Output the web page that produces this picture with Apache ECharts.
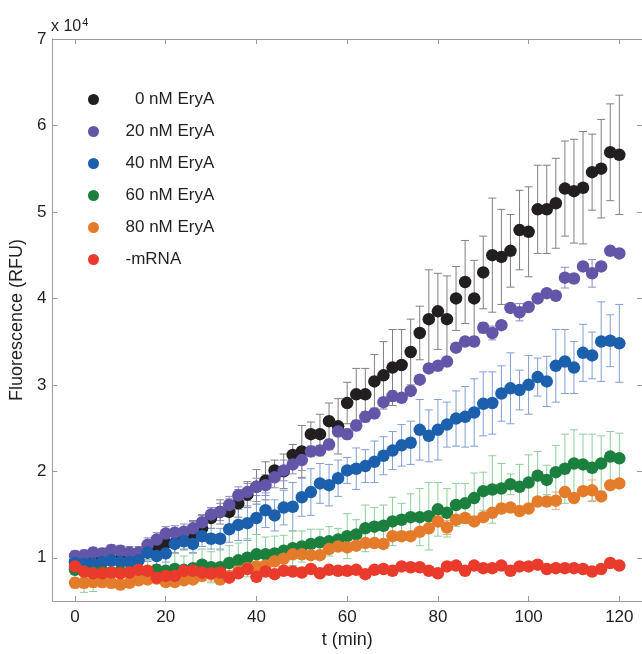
<!DOCTYPE html>
<html>
<head>
<meta charset="utf-8">
<script src="https://cdn.jsdelivr.net/npm/echarts@6/dist/echarts.min.js"></script>
<style>
  html, body { margin: 0; padding: 0; background: #fff; }
  #chart { width: 642px; height: 654px; }
</style>
</head>
<body>
<div id="chart"></div>
<script>
// time points (min)
var times = [0, 2, 4, 6, 8, 10, 12, 14, 16, 18, 20, 22, 24, 26, 28, 30, 32, 34, 36, 38, 40,
  42, 44, 46, 48, 50, 52, 54, 56, 58, 60, 62, 64, 66, 68, 70, 72, 74, 76, 78, 80,
  82, 84, 86, 88, 90, 92, 94, 96, 98, 100, 102, 104, 106, 108, 110, 112, 114, 116, 118, 120];

var seriesNames = ['  0 nM EryA', '20 nM EryA', '40 nM EryA', '60 nM EryA', '80 nM EryA', '-mRNA'];
var dotColors = ['#231f20', '#6356a8', '#1b5fad', '#1b7f3e', '#e47b2b', '#e93a2b'];
var barColors = ['#808080', '#8f89c9', '#7f9fd6', '#8fcf9b', '#f4a77c', '#f49085'];

// fluorescence, x 10^4 RFU
var ery0 = [0.95, 0.94, 0.96, 0.95, 0.97, 0.98, 1.00, 1.02, 1.06, 1.10, 1.17, 1.17, 1.22, 1.28, 1.34, 1.46, 1.53, 1.53, 1.63, 1.73, 1.82,
  1.89, 2.01, 2.00, 2.19, 2.23, 2.43, 2.43, 2.58, 2.52, 2.79, 2.89, 2.89, 3.04, 3.11, 3.20, 3.23, 3.38, 3.60, 3.76, 3.85,
  3.76, 4.00, 4.19, 4.00, 4.30, 4.50, 4.48, 4.55, 4.79, 4.77, 5.03, 5.03, 5.10, 5.27, 5.24, 5.28, 5.46, 5.50, 5.69, 5.66];
var ery0Err = [0.06, 0.07, 0.06, 0.07, 0.08, 0.07, 0.08, 0.09, 0.10, 0.10, 0.10, 0.12, 0.12, 0.15, 0.15, 0.12, 0.14, 0.15, 0.16, 0.15, 0.20,
  0.22, 0.12, 0.20, 0.12, 0.30, 0.14, 0.23, 0.21, 0.32, 0.24, 0.30, 0.30, 0.31, 0.39, 0.44, 0.41, 0.38, 0.31, 0.57, 0.44,
  0.50, 0.37, 0.48, 0.44, 0.42, 0.66, 0.55, 0.42, 0.46, 0.52, 0.51, 0.51, 0.52, 0.55, 0.60, 0.65, 0.44, 0.57, 0.56, 0.69];

var ery20 = [1.02, 1.03, 1.06, 1.05, 1.09, 1.08, 1.06, 1.06, 1.15, 1.21, 1.28, 1.29, 1.30, 1.34, 1.41, 1.50, 1.53, 1.61, 1.72, 1.76, 1.82,
  1.84, 1.93, 2.01, 2.08, 2.13, 2.23, 2.24, 2.31, 2.46, 2.43, 2.53, 2.63, 2.67, 2.80, 2.87, 2.85, 2.93, 3.06, 3.19, 3.22,
  3.27, 3.43, 3.50, 3.50, 3.66, 3.60, 3.69, 3.89, 3.84, 3.90, 4.00, 4.06, 4.03, 4.24, 4.23, 4.37, 4.29, 4.37, 4.55, 4.52];
var ery20Err = [0.06, 0.06, 0.06, 0.06, 0.06, 0.06, 0.07, 0.07, 0.08, 0.08, 0.08, 0.08, 0.09, 0.08, 0.09, 0.08, 0.10, 0.10, 0.10, 0.10, 0.10,
  0.12, 0.12, 0.12, 0.11, 0.12, 0.06, 0.06, 0.06, 0.05, 0.06, 0.06, 0.06, 0.06, 0.05, 0.06, 0.05, 0.05, 0.04, 0.05, 0.05,
  0.05, 0.05, 0.05, 0.05, 0.06, 0.08, 0.05, 0.04, 0.10, 0.04, 0.05, 0.03, 0.05, 0.12, 0.05, 0.05, 0.16, 0.05, 0.03, 0.04];

var ery40 = [0.94, 0.93, 0.93, 0.95, 0.97, 0.95, 0.95, 0.97, 1.06, 1.02, 1.05, 1.16, 1.19, 1.16, 1.25, 1.22, 1.22, 1.33, 1.38, 1.40, 1.46,
  1.55, 1.49, 1.58, 1.59, 1.70, 1.76, 1.86, 1.84, 1.92, 2.01, 2.03, 2.06, 2.11, 2.18, 2.24, 2.30, 2.33, 2.48, 2.41, 2.48,
  2.54, 2.61, 2.63, 2.68, 2.78, 2.79, 2.90, 2.96, 2.94, 3.00, 3.09, 3.04, 3.22, 3.27, 3.20, 3.37, 3.34, 3.50, 3.51, 3.48];
var ery40Err = [0.05, 0.05, 0.06, 0.05, 0.06, 0.06, 0.07, 0.07, 0.10, 0.10, 0.10, 0.10, 0.10, 0.10, 0.12, 0.12, 0.12, 0.15, 0.18, 0.20, 0.19,
  0.20, 0.18, 0.20, 0.28, 0.22, 0.27, 0.23, 0.24, 0.21, 0.15, 0.24, 0.19, 0.24, 0.22, 0.22, 0.24, 0.25, 0.35, 0.30, 0.35,
  0.26, 0.32, 0.35, 0.39, 0.37, 0.36, 0.32, 0.41, 0.23, 0.34, 0.22, 0.29, 0.42, 0.37, 0.30, 0.33, 0.27, 0.46, 0.30, 0.45];

var ery60 = [0.86, 0.84, 0.83, 0.84, 0.83, 0.84, 0.83, 0.85, 0.84, 0.86, 0.85, 0.87, 0.86, 0.88, 0.92, 0.89, 0.89, 0.94, 0.97, 1.00, 1.04,
  1.04, 1.05, 1.08, 1.11, 1.13, 1.16, 1.18, 1.19, 1.21, 1.25, 1.27, 1.34, 1.36, 1.37, 1.42, 1.44, 1.47, 1.47, 1.48, 1.56,
  1.52, 1.61, 1.63, 1.69, 1.77, 1.79, 1.80, 1.85, 1.82, 1.87, 1.95, 1.90, 1.99, 2.03, 2.09, 2.08, 2.04, 2.09, 2.17, 2.15];
var ery60Err = [0.20, 0.24, 0.22, 0.18, 0.15, 0.15, 0.14, 0.15, 0.14, 0.15, 0.15, 0.18, 0.16, 0.17, 0.18, 0.18, 0.20, 0.20, 0.20, 0.22, 0.23,
  0.20, 0.20, 0.18, 0.20, 0.18, 0.17, 0.15, 0.17, 0.13, 0.26, 0.17, 0.27, 0.22, 0.24, 0.28, 0.19, 0.27, 0.33, 0.39, 0.31,
  0.28, 0.25, 0.23, 0.29, 0.22, 0.39, 0.29, 0.12, 0.26, 0.32, 0.28, 0.17, 0.31, 0.40, 0.39, 0.35, 0.39, 0.32, 0.29, 0.29];

var ery80 = [0.71, 0.71, 0.72, 0.72, 0.71, 0.69, 0.71, 0.74, 0.75, 0.76, 0.72, 0.72, 0.74, 0.75, 0.79, 0.81, 0.75, 0.79, 0.84, 0.88, 0.90,
  0.91, 0.96, 0.99, 1.04, 1.04, 1.03, 1.03, 1.10, 1.13, 1.12, 1.14, 1.17, 1.17, 1.16, 1.25, 1.25, 1.25, 1.30, 1.34, 1.42,
  1.35, 1.44, 1.46, 1.42, 1.47, 1.52, 1.57, 1.58, 1.54, 1.57, 1.65, 1.65, 1.66, 1.76, 1.69, 1.77, 1.78, 1.71, 1.84, 1.86];
var ery80Err = [0.06, 0.06, 0.06, 0.06, 0.06, 0.06, 0.05, 0.05, 0.05, 0.05, 0.05, 0.05, 0.05, 0.05, 0.06, 0.08, 0.05, 0.05, 0.05, 0.05, 0.05,
  0.05, 0.05, 0.05, 0.05, 0.05, 0.05, 0.05, 0.05, 0.05, 0.05, 0.05, 0.05, 0.05, 0.05, 0.05, 0.05, 0.05, 0.05, 0.05, 0.06,
  0.08, 0.05, 0.05, 0.05, 0.05, 0.05, 0.05, 0.05, 0.05, 0.05, 0.05, 0.05, 0.10, 0.05, 0.05, 0.05, 0.12, 0.05, 0.04, 0.04];

var noMrna = [0.90, 0.84, 0.82, 0.82, 0.83, 0.82, 0.83, 0.86, 0.85, 0.77, 0.79, 0.79, 0.85, 0.85, 0.83, 0.82, 0.83, 0.77, 0.82, 0.87, 0.78,
  0.84, 0.81, 0.85, 0.84, 0.83, 0.87, 0.82, 0.86, 0.85, 0.85, 0.86, 0.81, 0.86, 0.87, 0.85, 0.90, 0.89, 0.89, 0.85, 0.82,
  0.90, 0.91, 0.85, 0.91, 0.88, 0.88, 0.91, 0.85, 0.90, 0.90, 0.92, 0.87, 0.88, 0.88, 0.88, 0.87, 0.84, 0.87, 0.94, 0.91];
var noMrnaErr = [0.05, 0.10, 0.08, 0.05, 0.04, 0.04, 0.04, 0.04, 0.04, 0.05, 0.04, 0.04, 0.04, 0.04, 0.04, 0.04, 0.04, 0.04, 0.04, 0.04, 0.04,
  0.04, 0.04, 0.04, 0.04, 0.04, 0.04, 0.04, 0.04, 0.04, 0.04, 0.04, 0.05, 0.04, 0.04, 0.04, 0.04, 0.04, 0.04, 0.04, 0.05,
  0.04, 0.04, 0.04, 0.04, 0.04, 0.05, 0.04, 0.04, 0.04, 0.04, 0.04, 0.04, 0.04, 0.04, 0.04, 0.04, 0.04, 0.04, 0.04, 0.04];

var xTicks = [0, 20, 40, 60, 80, 100, 120];
var yTicks = [1, 2, 3, 4, 5, 6, 7];

var allVals = [ery0, ery20, ery40, ery60, ery80, noMrna];
var allErrs = [ery0Err, ery20Err, ery40Err, ery60Err, ery80Err, noMrnaErr];

var chart = echarts.init(document.getElementById('chart'), null, { renderer: 'canvas' });

var font = "'Liberation Sans', Arial, Helvetica, sans-serif";
var axisGrey = '#9a9a9a';
var textCol = '#231f20';

function errorBars(i) {
  var color = barColors[i];
  return {
    type: 'custom',
    name: seriesNames[i] + ' err',
    silent: true,
    data: times.map(function (t, k) {
      return [t, allVals[i][k] - allErrs[i][k], allVals[i][k] + allErrs[i][k]];
    }),
    encode: { x: 0, y: [1, 2] },
    renderItem: function (params, api) {
      var lo = api.coord([api.value(0), api.value(1)]);
      var hi = api.coord([api.value(0), api.value(2)]);
      var w = 4;
      var st = { stroke: color, lineWidth: 1 };
      return {
        type: 'group',
        children: [
          { type: 'line', shape: { x1: lo[0], y1: lo[1], x2: hi[0], y2: hi[1] }, style: st },
          { type: 'line', shape: { x1: lo[0] - w, y1: lo[1], x2: lo[0] + w, y2: lo[1] }, style: st },
          { type: 'line', shape: { x1: hi[0] - w, y1: hi[1], x2: hi[0] + w, y2: hi[1] }, style: st }
        ]
      };
    }
  };
}

function dots(i) {
  return {
    type: 'scatter',
    name: seriesNames[i],
    symbol: 'circle',
    symbolSize: 12.5,
    itemStyle: { color: dotColors[i], opacity: 1 },
    emphasis: { disabled: true },
    data: times.map(function (t, k) { return [t, allVals[i][k]]; })
  };
}

var series = [];
for (var i = 0; i < seriesNames.length; i++) {
  series.push(errorBars(i));
  series.push(dots(i));
}

var option = {
  animation: false,
  backgroundColor: '#fff',
  textStyle: { fontFamily: font },
  grid: { left: 51, top: 39, right: -2, bottom: 46, containLabel: false },
  legend: {
    data: seriesNames,
    orient: 'vertical',
    left: 83,
    top: 86,
    icon: 'circle',
    itemWidth: 54,
    itemHeight: 11,
    itemGap: 15,
    selectedMode: false,
    textStyle: { fontSize: 17, color: textCol, fontFamily: font, lineHeight: 16 }
  },
  xAxis: [{
    type: 'value',
    position: 'bottom',
    min: -5,
    max: 125,
    name: 't (min)',
    nameLocation: 'middle',
    nameGap: 30,
    nameTextStyle: { fontSize: 18, color: textCol, fontFamily: font },
    axisLine: { show: true, onZero: false, lineStyle: { color: axisGrey, width: 1 } },
    axisTick: { show: true, inside: true, length: 5, customValues: xTicks, lineStyle: { color: axisGrey } },
    axisLabel: { customValues: xTicks, fontSize: 17, color: textCol, margin: 8, fontFamily: font },
    splitLine: { show: false }
  }, {
    type: 'value',
    position: 'top',
    min: -5,
    max: 125,
    axisLine: { show: true, onZero: false, lineStyle: { color: axisGrey, width: 1 } },
    axisTick: { show: true, inside: true, length: 5, customValues: xTicks, lineStyle: { color: axisGrey } },
    axisLabel: { show: false },
    splitLine: { show: false }
  }],
  yAxis: [{
    type: 'value',
    position: 'left',
    min: 0.5,
    max: 7,
    name: 'Fluorescence (RFU)',
    nameLocation: 'middle',
    nameGap: 21,
    nameRotate: 90,
    nameTextStyle: { fontSize: 18, color: textCol, fontFamily: font },
    axisLine: { show: true, onZero: false, lineStyle: { color: axisGrey, width: 1 } },
    axisTick: { show: true, inside: true, length: 5, customValues: yTicks, lineStyle: { color: axisGrey } },
    axisLabel: { customValues: yTicks, fontSize: 17, color: textCol, margin: 6, fontFamily: font },
    splitLine: { show: false }
  }, {
    type: 'value',
    position: 'right',
    min: 0.5,
    max: 7,
    axisLine: { show: false, onZero: false },
    axisTick: { show: true, inside: true, length: 5, customValues: yTicks, lineStyle: { color: axisGrey } },
    axisLabel: { show: false },
    splitLine: { show: false }
  }],
  graphic: [{
    type: 'text',
    left: 51,
    top: 17,
    style: {
      text: 'x 10{sup|4}',
      fontSize: 16,
      fontFamily: font,
      fill: textCol,
      rich: { sup: { fontSize: 11, verticalAlign: 'top', padding: [0, 0, 8, 1], fontFamily: font, fill: textCol } }
    }
  }],
  series: series
};

chart.setOption(option);
</script>
</body>
</html>
